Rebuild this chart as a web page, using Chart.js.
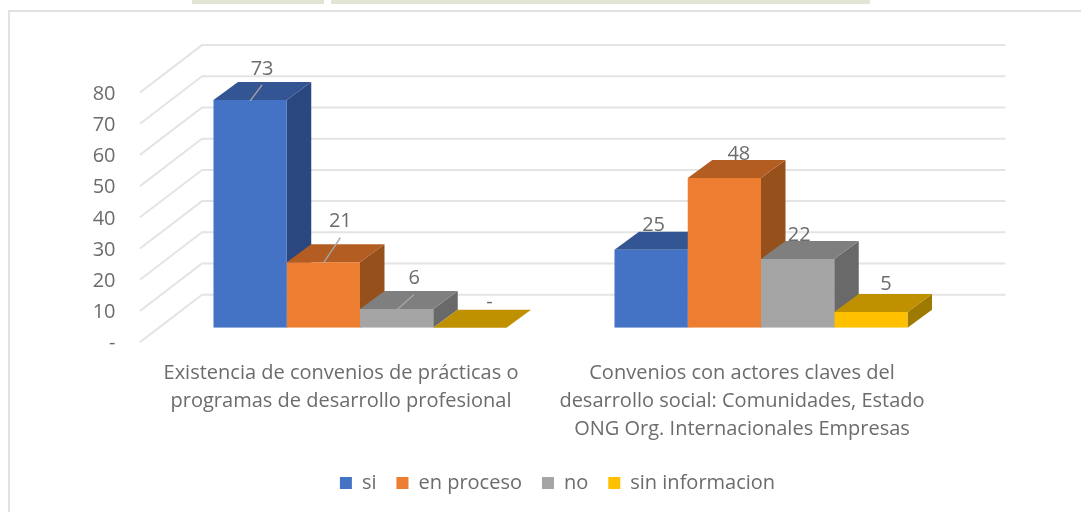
<!DOCTYPE html>
<html><head><meta charset="utf-8">
<script src="https://cdn.jsdelivr.net/npm/chart.js@4"></script>
<style>
html,body{margin:0;padding:0;background:#fff;overflow:hidden}
#wrap{position:relative;width:1081px;height:512px}
#c{position:absolute;left:0;top:0;filter:blur(0.7px)}
.fr{position:absolute;background:#e2e2e2}
.ban{position:absolute;background:#e3e3d6;top:0;height:4px}
</style></head><body>
<div id="wrap">
<div class="ban" style="left:192px;width:132px"></div>
<div class="ban" style="left:331px;width:539px"></div>
<div class="fr" style="left:8px;top:10px;width:1073px;height:2px"></div>
<div class="fr" style="left:8px;top:10px;width:2px;height:502px"></div>
<canvas id="c" width="1081" height="512"></canvas>
</div>
<script>
const categories = [
  ["Existencia de convenios de prácticas o","programas de desarrollo profesional"],
  ["Convenios con actores claves del","desarrollo social: Comunidades, Estado","ONG Org. Internacionales Empresas"]
];
const seriesNames = ["si","en proceso","no","sin informacion"];
const si = [73,25];
const enProceso = [21,48];
const no = [6,22];
const sinInformacion = [0,5];
const frontColors = ["#4472C4","#ED7D31","#A5A5A5","#FFC000"];
const topColors = ["#335593","#B45D22","#7F7F7F","#BF9000"];
const sideColors = ["#2A4780","#96501C","#696969","#9E7B00"];
const labelRise = [[31,24],[40.5,24],[30.5,24],[25.5,27.5]];
const labelShift = [[12,2.5],[17,14.5],[17.5,1.5],[19.5,15]];
const leaders = [[true,false],[true,false],[true,false],[false,false]];
const textColor = "#6c6c6c";
const gridColor = "#e4e4e4";
const FONT = "'Open Sans', sans-serif";
const DX = 24.5, DY = 18;
const AREA_LEFT = 159.5, AREA_RIGHT = 961.5, AREA_TOP = 78.1, AREA_BOTTOM = 327.7, PAD_BOTTOM = 9;

const depthBars = {
  id:'depthBars',
  beforeDatasetsDraw(chart){
    const {ctx,scales:{y},chartArea:a} = chart;
    const fx = a.left-19.5, wx = a.left+42.5, wr = a.left+846;
    ctx.save();
    ctx.strokeStyle = gridColor; ctx.lineWidth = 2;
    y.ticks.forEach(t=>{
      const p = y.getPixelForValue(t.value);
      ctx.beginPath();
      ctx.moveTo(fx,p+14.4);
      ctx.lineTo(wx,p-33);
      ctx.lineTo(wr,p-33);
      ctx.stroke();
    });
    // sides and tops, left to right so each bar overlaps the one before it
    chart.data.datasets.forEach((ds,i)=>{
      chart.getDatasetMeta(i).data.forEach(b=>{
        const L=b.x-b.width/2,R=b.x+b.width/2,T=b.y,B=b.base;
        ctx.fillStyle = sideColors[i];
        ctx.beginPath();ctx.moveTo(R,T);ctx.lineTo(R+DX,T-DY);ctx.lineTo(R+DX,B-DY);ctx.lineTo(R,B);ctx.closePath();ctx.fill();
        ctx.fillStyle = topColors[i];
        ctx.beginPath();ctx.moveTo(L,T);ctx.lineTo(L+DX,T-DY);ctx.lineTo(R+DX,T-DY);ctx.lineTo(R,T);ctx.closePath();ctx.fill();
      });
    });
    ctx.restore();
  },
  afterDatasetsDraw(chart){
    const {ctx} = chart;
    ctx.save();
    ctx.font = "20px "+FONT; ctx.textAlign='center'; ctx.textBaseline='middle';
    chart.data.datasets.forEach((ds,i)=>{
      chart.getDatasetMeta(i).data.forEach((b,j)=>{
        const lx=b.x+labelShift[i][j], ly=b.y-labelRise[i][j];
        if(leaders[i][j]){
          ctx.strokeStyle="#a6a6a6";ctx.lineWidth=1.4;
          ctx.beginPath();ctx.moveTo(b.x,b.y+1);ctx.lineTo(lx,ly+16);ctx.stroke();
        }
        ctx.fillStyle=textColor;
        ctx.fillText(ds.data[j]===0?"-":String(ds.data[j]),lx,ly);
      });
    });
    ctx.restore();
  },
  afterLayout(chart){
    const l = chart.legend, dx = 557.5-(l.left+l.right)/2;
    l.left += dx; l.right += dx;
  }
};

const rows = [si,enProceso,no,sinInformacion];
new Chart(document.getElementById('c'),{
  type:'bar',
  data:{labels:categories,datasets:seriesNames.map((n,i)=>({
    label:n,data:rows[i],backgroundColor:frontColors[i],borderWidth:0,
    categoryPercentage:0.7307,barPercentage:1
  }))},
  plugins:[depthBars],
  options:{
    responsive:false,animation:false,
    layout:{padding:{left:0,right:1081-AREA_RIGHT,top:AREA_TOP,bottom:PAD_BOTTOM}},
    plugins:{
      tooltip:{enabled:false},title:{display:false},
      legend:{position:'bottom',labels:{
        boxWidth:12,boxHeight:12,padding:20,color:textColor,font:{family:FONT,size:20}
      }}
    },
    scales:{
      y:{min:0,max:80,
        grid:{display:false,drawTicks:false},border:{display:false},
        ticks:{stepSize:10,padding:44,labelOffset:16,color:textColor,font:{family:FONT,size:20},
          callback:v=>v===0?"-":String(v)},
        afterFit(s){s.width=AREA_LEFT;s.paddingTop=0;s.paddingBottom=0;}
      },
      x:{
        grid:{display:false,drawTicks:false},border:{display:false},
        ticks:{maxRotation:0,autoSkip:false,padding:32,labelOffset:-19,color:textColor,font:{family:FONT,size:20,lineHeight:1.4}},
        afterFit(s){s.paddingLeft=0;s.paddingRight=0;s.height=512-AREA_BOTTOM-PAD_BOTTOM-s.chart.legend.height;}
      }
    }
  }
});
</script>
</body></html>
